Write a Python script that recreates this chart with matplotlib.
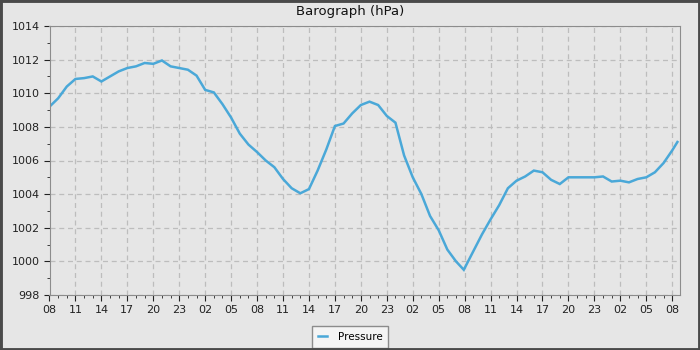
import pandas as pd
import matplotlib
matplotlib.use("Agg")
import matplotlib.pyplot as plt
import matplotlib.dates as mdates
from matplotlib.patches import Rectangle

# hours since start (08:00) and pressure readings in hPa
hours = [0, 1, 2, 3, 4, 5, 6, 7, 8, 9, 10, 11, 12, 13, 14, 15, 16, 17, 18, 19,
         20, 21, 22, 23, 24, 25, 26, 27, 28, 29, 30, 31, 32, 33, 34, 35, 36, 37,
         38, 39, 40, 41, 42, 43, 44, 45, 46, 47, 47.9, 49, 50, 51, 52, 53, 54,
         55, 56, 57, 58, 59, 60, 61, 62, 63, 64, 65, 66, 67, 68, 69, 70, 71, 72, 72.6]
pressure = [1009.2, 1009.7, 1010.4, 1010.85, 1010.9, 1011.0, 1010.7, 1011.0, 1011.3,
            1011.5, 1011.6, 1011.8, 1011.75, 1011.95, 1011.6, 1011.5, 1011.4, 1011.05,
            1010.2, 1010.05, 1009.35, 1008.55, 1007.6, 1006.95, 1006.5, 1006.0, 1005.6,
            1004.9, 1004.35, 1004.05, 1004.3, 1005.4, 1006.65, 1008.05, 1008.2, 1008.8,
            1009.3, 1009.5, 1009.3, 1008.65, 1008.25, 1006.3, 1005.0, 1004.0, 1002.7,
            1001.85, 1000.7, 1000.0, 999.5, 1000.6, 1001.6, 1002.5, 1003.35, 1004.35,
            1004.8, 1005.05, 1005.4, 1005.3, 1004.85, 1004.6, 1005.0, 1005.0, 1005.0,
            1005.0, 1005.05, 1004.75, 1004.8, 1004.7, 1004.9, 1005.0, 1005.3, 1005.85,
            1006.6, 1007.1]

start = pd.Timestamp("2024-01-01 08:00")
times = [start + pd.Timedelta(hours=h) for h in hours]

bg = "#e6e6e6"
fig = plt.figure(figsize=(7, 3.5), dpi=100, facecolor=bg)
ax = fig.add_axes([49.5 / 700, 1 - 295 / 350, (680 - 49.5) / 700, (295 - 26) / 350])
ax.set_facecolor(bg)

ax.plot(times, pressure, color="#4aa8d8", lw=1.8, solid_joinstyle="miter", label="Pressure")

ax.set_xlim(start, start + pd.Timedelta(hours=72.9))
ax.set_ylim(998, 1014)
ax.set_yticks(range(998, 1015, 2))
ax.set_yticks(range(999, 1014, 2), minor=True)
ax.xaxis.set_major_locator(mdates.HourLocator(byhour=range(2, 24, 3)))
ax.xaxis.set_minor_locator(mdates.HourLocator())
ax.xaxis.set_major_formatter(mdates.DateFormatter("%H"))

ax.tick_params(which="major", length=4, labelsize=8, colors="#222222", pad=3)
ax.tick_params(which="minor", length=2, colors="#222222")
ax.grid(True, which="major", color="#bdbdbd", linestyle=(0, (4, 3)), lw=0.9)
for s in ax.spines.values():
    s.set_color("#8c8c8c")

fig.text(0.5, 1 - 12 / 350, "Barograph (hPa)", ha="center", va="center", fontsize=9.5, color="#111111")

leg = fig.legend(loc="center", bbox_to_anchor=(350 / 700, 1 - 337 / 350), fontsize=7.5,
                 fancybox=False, framealpha=1, handlelength=0.9, borderpad=0.55,
                 handletextpad=1.0, borderaxespad=0)
leg.get_frame().set_edgecolor("#8c8c8c")
leg.get_frame().set_facecolor("#f4f4f4")

fig.patches.append(Rectangle((0, 0), 1, 1, transform=fig.transFigure, fill=False,
                             edgecolor="#4a4a4a", lw=3.5, zorder=10))

fig.savefig("out.png", dpi=100, facecolor=bg)
